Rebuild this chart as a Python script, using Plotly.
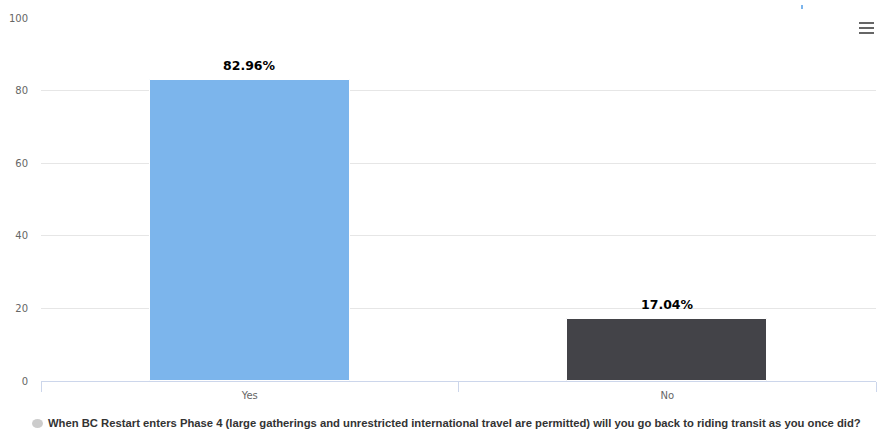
import plotly.graph_objects as go

categories = ["Yes", "No"]
values = [82.96, 17.04]
labels = ["82.96%", "17.04%"]
colors = ["#7cb5ec", "#434348"]
tick_vals = [0, 20, 40, 60, 80, 100]
legend_text = ("When BC Restart enters Phase 4 (large gatherings and unrestricted international travel "
               "are permitted) will you go back to riding transit as you once did?")

W, H = 878, 434
L, R, T, B = 41, 2, 18, 53
PW, PH = W - L - R, H - T - B


def px(x):
    return (x - L) / PW


def py(y):
    return (H - B - y) / PH


fig = go.Figure()
fig.add_trace(go.Bar(
    x=categories, y=values, marker=dict(color=colors, line=dict(width=1, color="#ffffff")),
    width=0.48, showlegend=False, hoverinfo="x+y",
))
for c, v, t in zip(categories, values, labels):
    fig.add_annotation(x=c, y=v, text=t, showarrow=False, yanchor="bottom", yshift=5,
                       font=dict(family="DejaVu Sans", size=12.5, color="#000000", weight="bold"))

fig.update_layout(
    width=W, height=H,
    margin=dict(l=L, r=R, t=T, b=B, autoexpand=False),
    paper_bgcolor="#ffffff", plot_bgcolor="#ffffff",
    font=dict(family="DejaVu Sans", size=11, color="#666666"),
    xaxis=dict(range=[-0.5, 1.5], showline=True, linecolor="#ccd6eb", linewidth=1,
               ticks="outside", tickson="boundaries", ticklen=10, tickcolor="#ccd6eb",
               ticklabelstandoff=5,
               showgrid=False, tickfont=dict(size=10, color="#666666"), fixedrange=True,
               automargin=False),
    yaxis=dict(range=[0, 100], tickvals=tick_vals, showgrid=True, gridcolor="#e6e6e6",
               zeroline=False, showline=False, ticks="", ticklabelstandoff=12,
               tickfont=dict(size=10, color="#666666"), fixedrange=True, automargin=False),
    bargap=0,
)

# legend (bottom)
fig.add_shape(type="circle", xref="paper", yref="paper",
              x0=px(32), x1=px(43), y0=py(428), y1=py(419),
              fillcolor="#cccccc", line=dict(width=0), layer="above")
fig.add_annotation(xref="paper", yref="paper", x=px(46), y=py(423),
                   xanchor="left", yanchor="middle", showarrow=False, text=legend_text,
                   font=dict(family="Liberation Sans", size=11.25, color="#333333", weight="bold"))

# menu icon (pixel-sized, anchored at the top-right of the plot area)
for yy in (23, 28, 33):
    fig.add_shape(type="rect", xref="paper", yref="paper",
                  xsizemode="pixel", ysizemode="pixel", xanchor=1, yanchor=1,
                  x0=859 - 876, x1=874 - 876, y0=-(yy + 1 - 18), y1=-(yy - 1 - 18),
                  fillcolor="#666666", line=dict(width=0), layer="above")

# small blue mark near the top
fig.add_shape(type="rect", xref="paper", yref="paper",
              xsizemode="pixel", ysizemode="pixel", xanchor=1, yanchor=1,
              x0=801 - 876, x1=803 - 876, y0=-(9 - 18), y1=-(5 - 18),
              fillcolor="#7cb5ec", line=dict(width=0), layer="above")

fig.write_html("out.html", config={"displayModeBar": False},
               post_script="document.body.style.margin='0';document.body.style.overflow='hidden';")
